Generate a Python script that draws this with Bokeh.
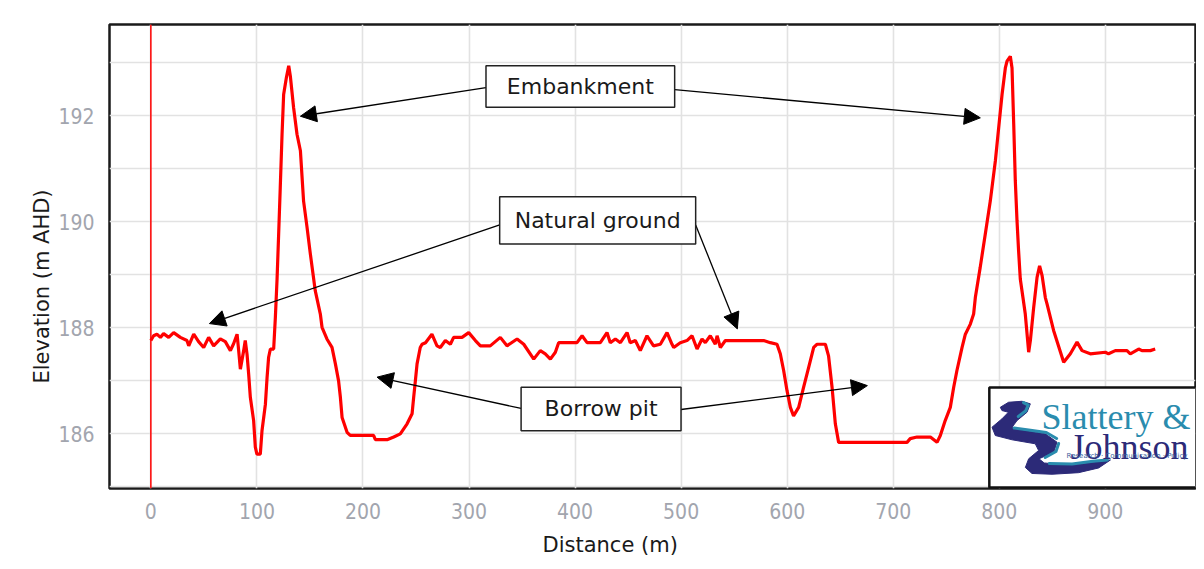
from bokeh.plotting import figure
from bokeh.models import (Range1d, FixedTicker, Span, BoxAnnotation, Label, Arrow,
                          NormalHead, ColumnDataSource, Title)
from bokeh.embed import file_html
from bokeh.resources import INLINE

# ---------------- data ----------------
distance = [0, 2.6, 5.7, 9, 12, 16.8, 21.5, 27.8, 34, 35.7, 40.4, 45, 49.8, 54.5, 59.2,
            65.5, 70.2, 75, 78, 81.3, 82.8, 84.4, 87.5, 89, 90.7, 92.2, 93.8, 96.9, 98.5,
            100, 103.2, 104.8, 108, 109.6, 111, 112.7, 115.8, 117.4, 119, 120.5, 122, 123.7,
            125.2, 127.8, 130, 131.5, 134.6, 137.8, 141, 144, 147.3, 150.4, 155, 159.8, 161.4,
            166, 170.8, 174, 177, 178.7, 180.3, 185, 188, 210, 211.7, 222.7, 229, 235.2, 241.6,
            246.3, 247.8, 249.4, 251, 254, 255.7, 259, 265, 269.8, 272.9, 277.7, 282.4, 285.5,
            293.4, 299.7, 306, 310.7, 320, 329.5, 335.8, 345.3, 351.6, 361, 367.2, 371.9, 376.7,
            381.4, 384.5, 401.8, 406.6, 411.3, 423.8, 430.1, 433.2, 438, 442.7, 449, 452, 456.8,
            461.5, 467.8, 474, 480.4, 486.7, 491.4, 493, 499.2, 505.5, 510.3, 515, 519.7, 522.8,
            527.5, 532.2, 533.9, 537, 541.7, 577.8, 584.1, 590.4, 593.5, 596.7, 599.8, 603, 606,
            610.8, 615.5, 620.2, 625, 628, 636, 639, 642.3, 645.4, 648.5, 713, 716, 722.4, 735,
            741.3, 744.4, 749, 753.8, 757, 760, 764.9, 768, 772.7, 775.8, 777.4, 782, 786.8,
            791.5, 796.3, 799.4, 802.6, 805.7, 807.3, 810.4, 812, 813.6, 815.1, 816.7, 818.2,
            819.8, 822.3, 824.5, 827.7, 829.3, 832.4, 835.6, 838, 840.3, 843.4, 845, 851.2,
            860.7, 867, 873.3, 878, 885.8, 900, 903, 909.4, 920.4, 923.5, 931.4, 934.5, 942.4, 947]
elevation = [187.76, 187.85, 187.88, 187.82, 187.89, 187.82, 187.91, 187.82, 187.76, 187.66,
             187.88, 187.74, 187.63, 187.82, 187.66, 187.79, 187.74, 187.57, 187.70, 187.88,
             187.57, 187.22, 187.57, 187.76, 187.50, 187.13, 186.69, 186.25, 185.75, 185.62,
             185.62, 186.06, 186.56, 187.07, 187.44, 187.60, 187.60, 188.20, 188.92, 189.77,
             190.64, 191.65, 192.40, 192.72, 192.94, 192.75, 192.15, 191.65, 191.34, 190.39,
             189.89, 189.39, 188.70, 188.26, 188.01, 187.79, 187.63, 187.32, 187.00, 186.69,
             186.31, 186.03, 185.97, 185.97, 185.89, 185.89, 185.94, 186.00, 186.19, 186.38,
             186.69, 187.00, 187.32, 187.63, 187.69, 187.72, 187.88, 187.66, 187.63, 187.76,
             187.69, 187.82, 187.82, 187.91, 187.76, 187.66, 187.66, 187.82, 187.66, 187.79,
             187.69, 187.41, 187.57, 187.51, 187.41, 187.54, 187.72, 187.72, 187.85, 187.72,
             187.72, 187.91, 187.72, 187.79, 187.72, 187.91, 187.72, 187.76, 187.57, 187.85,
             187.66, 187.69, 187.91, 187.69, 187.63, 187.72, 187.76, 187.85, 187.60, 187.79,
             187.72, 187.85, 187.69, 187.85, 187.63, 187.76, 187.76, 187.72, 187.69, 187.51,
             187.19, 186.82, 186.50, 186.34, 186.50, 186.88, 187.25, 187.63, 187.69, 187.69,
             187.47, 186.88, 186.19, 185.84, 185.84, 185.91, 185.94, 185.94, 185.84, 185.97,
             186.25, 186.50, 186.88, 187.19, 187.63, 187.88, 188.07, 188.26, 188.57, 189.14,
             189.77, 190.39, 191.15, 191.77, 192.40, 192.90, 193.03, 193.12, 192.90, 191.84,
             190.77, 190.02, 189.45, 188.92, 188.57, 188.26, 187.54, 187.76, 188.38, 188.95,
             189.17, 188.99, 188.57, 188.45, 187.95, 187.35, 187.51, 187.73, 187.57, 187.51,
             187.54, 187.51, 187.57, 187.57, 187.51, 187.60, 187.57, 187.57, 187.60]

x_ticks = [0, 100, 200, 300, 400, 500, 600, 700, 800, 900]
y_ticks = [186, 188, 190, 192]
y_grid = [185, 186, 187, 188, 189, 190, 191, 192, 193]

x_title = "Distance (m)"
y_title = "Elevation (m AHD)"
callouts = ["Embankment", "Natural ground", "Borrow pit"]

# ---------------- figure ----------------
p = figure(width=1196, height=567, x_range=Range1d(-39, 985), y_range=Range1d(184.97, 193.72),
           output_backend="svg", toolbar_location=None,
           min_border_left=109, min_border_right=1, min_border_top=24, min_border_bottom=79)
p.background_fill_color = "white"
p.border_fill_color = "white"
p.outline_line_color = "#1a1a1a"
p.outline_line_width = 2.5

p.xaxis.ticker = FixedTicker(ticks=x_ticks)
p.yaxis.ticker = FixedTicker(ticks=y_ticks)
p.xgrid.ticker = FixedTicker(ticks=x_ticks)
p.ygrid.ticker = FixedTicker(ticks=y_grid)
for g in (p.xgrid, p.ygrid):
    g.grid_line_color = "#e2e2e2"
    g.grid_line_width = 1.6

for ax in (p.xaxis, p.yaxis):
    ax.axis_line_color = None
    ax.major_tick_line_color = None
    ax.minor_tick_line_color = None
    ax.major_label_text_font = "DejaVu Sans Condensed"
    ax.major_label_text_font_size = "21px"
    ax.major_label_text_color = "#a2a5ae"
p.xaxis.major_label_standoff = 8
p.yaxis.major_label_standoff = 9

# axis titles as side titles (they sit off-centre in the reference)
p.add_layout(Title(text=x_title, align="left", offset=433, standoff=19,
                   text_font="DejaVu Sans", text_font_size="21px", text_font_style="normal",
                   text_color="#1a1a1a"), "below")
p.add_layout(Title(text=y_title, align="left", offset=105, standoff=3,
                   text_font="DejaVu Sans", text_font_size="21px", text_font_style="normal",
                   text_color="#1a1a1a"), "left")

p.add_layout(Span(location=0, dimension="height", line_color="red", line_width=1.5))

src = ColumnDataSource(dict(x=distance, y=elevation))
p.line("x", "y", source=src, line_color="#ff0000", line_width=3.2)

# ---------------- call-outs ----------------
boxes = {
    "Embankment": (316.0, 493.9, 192.94, 192.16),
    "Natural ground": (328.9, 513.7, 190.47, 189.58),
    "Borrow pit": (349.1, 499.9, 186.88, 186.06),
}
arrows = {
    "Embankment": [(316.0, 192.53, 141.0, 191.99), (493.9, 192.49, 782.1, 191.96)],
    "Natural ground": [(328.9, 189.94, 55.2, 188.08), (513.7, 189.94, 553.0, 187.98)],
    "Borrow pit": [(349.1, 186.48, 213.3, 187.07), (499.9, 186.46, 675.6, 186.91)],
}
for name in callouts:
    for (xs, ys, xe, ye) in arrows[name]:
        p.add_layout(Arrow(x_start=xs, y_start=ys, x_end=xe, y_end=ye, line_color="black",
                           line_width=1.3,
                           end=NormalHead(size=16, fill_color="black", line_color="black")))
for name in callouts:
    l, r, t, b = boxes[name]
    p.add_layout(BoxAnnotation(left=l, right=r, top=t, bottom=b, fill_color="white",
                               fill_alpha=1, line_color="#222222", line_width=1.5,
                               line_alpha=1, level="overlay"))
    p.add_layout(Label(x=(l + r) / 2, y=(t + b) / 2, text=name, text_align="center",
                       text_baseline="middle", text_font="DejaVu Sans",
                       text_font_size="22px", text_color="#1a1a1a", level="overlay"))

# ---------------- logo ----------------
L, R, T, B = 790.6, 985.8, 186.873, 184.99
def lx(f):
    return L + f * (R - L)
def ly(f):
    return T - f * (T - B)

p.add_layout(BoxAnnotation(left=L, right=R, top=T, bottom=B, fill_color="white", fill_alpha=1,
                           line_color="#111111", line_width=2.5, line_alpha=1, level="underlay"))

navy = "#2c2a78"
teal = "#2a8cae"
swoosh = [(.053, .197), (.093, .147), (.158, .137), (.198, .163), (.182, .247), (.134, .33),
          (.110, .397), (.174, .43), (.271, .463), (.327, .547), (.311, .647), (.240, .713),
          (.265, .755), (.383, .775), (.512, .745), (.585, .725), (.528, .805), (.431, .852),
          (.303, .868), (.206, .86), (.174, .80), (.190, .713), (.238, .63), (.222, .563),
          (.110, .523), (.029, .48), (.013, .397), (.061, .313), (.092, .247), (.061, .23)]
p.patch([lx(a) for a, _ in swoosh], [ly(b) for _, b in swoosh], fill_color=navy,
        line_color=navy, line_width=1)
teal_paths = [
    [(.165, .15), (.188, .175), (.175, .235), (.14, .29)],
    [(.12, .405), (.19, .425), (.275, .45), (.325, .51)],
    [(.335, .56), (.322, .64), (.27, .70)],
    [(.29, .76), (.40, .765), (.50, .737), (.57, .725)],
]
p.multi_line([[lx(a) for a, _ in path] for path in teal_paths],
             [[ly(b) for _, b in path] for path in teal_paths],
             line_color=teal, line_width=3, line_cap="round", line_join="round")

p.add_layout(Label(x=lx(0.972), y=ly(0.29), text="Slattery &", text_align="right",
                   text_baseline="alphabetic", text_font="Liberation Serif",
                   text_font_size="36px", text_color=teal))
p.add_layout(Label(x=lx(0.962), y=ly(0.595), text="Johnson", text_align="right",
                   text_baseline="alphabetic", text_font="Liberation Serif",
                   text_font_size="36px", text_color=navy))
p.add_layout(Label(x=lx(0.665), y=ly(0.685), text="Research · Communication · Policy",
                   text_align="center", text_baseline="middle", text_font="DejaVu Sans",
                   text_font_size="7px", text_color="#3b5fa0"))

open("out.html", "w").write(file_html(p, INLINE))
